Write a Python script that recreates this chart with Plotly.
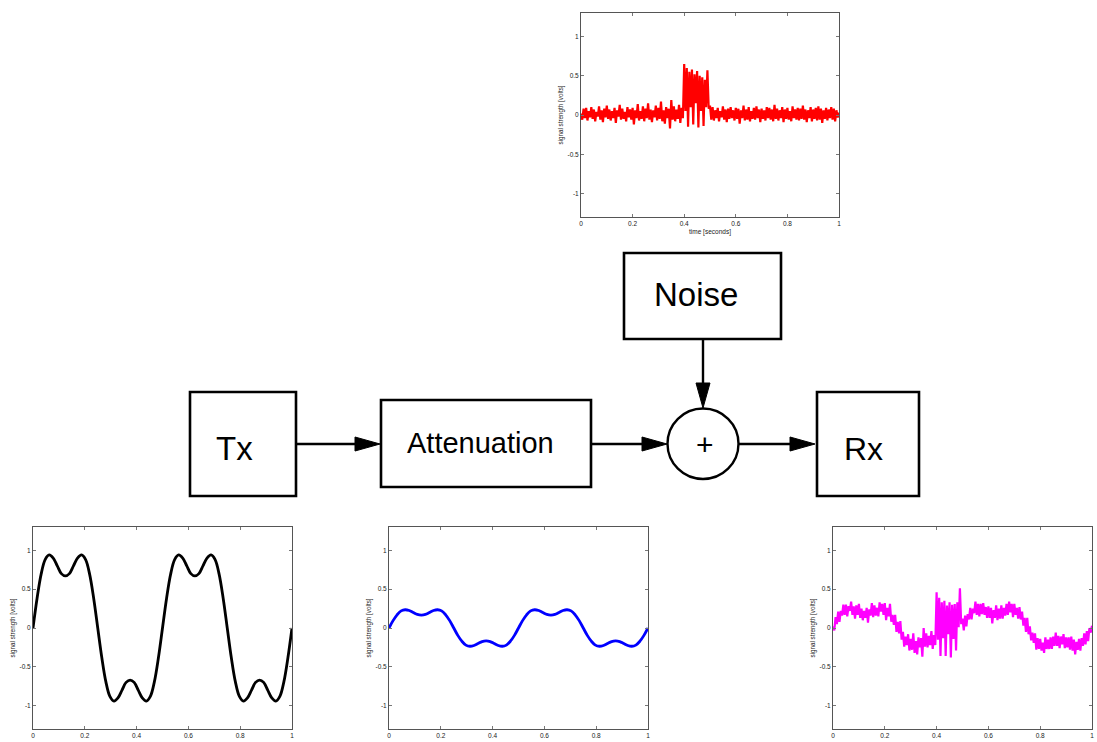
import plotly.graph_objects as go

W, H = 1097, 742

# ---------------- data ----------------
tx_dt = 1 / 64
tx_signal = [
    0, 0.38, 0.69, 0.88, 0.94, 0.90, 0.80, 0.70, 0.67, 0.70, 0.80, 0.90, 0.94, 0.88, 0.69, 0.38,
    0, -0.38, -0.69, -0.88, -0.94, -0.90, -0.80, -0.70, -0.67, -0.70, -0.80, -0.90, -0.94, -0.88, -0.69, -0.38,
    0, 0.38, 0.69, 0.88, 0.94, 0.90, 0.80, 0.70, 0.67, 0.70, 0.80, 0.90, 0.94, 0.88, 0.69, 0.38,
    0, -0.38, -0.69, -0.88, -0.94, -0.90, -0.80, -0.70, -0.67, -0.70, -0.80, -0.90, -0.94, -0.88, -0.69, -0.38,
    0,
]
att_signal = [
    0, 0.095, 0.17, 0.22, 0.235, 0.225, 0.20, 0.175, 0.167, 0.175, 0.20, 0.225, 0.235, 0.22, 0.17, 0.095,
    0, -0.095, -0.17, -0.22, -0.235, -0.225, -0.20, -0.175, -0.167, -0.175, -0.20, -0.225, -0.235, -0.22, -0.17, -0.095,
    0, 0.095, 0.17, 0.22, 0.235, 0.225, 0.20, 0.175, 0.167, 0.175, 0.20, 0.225, 0.235, 0.22, 0.17, 0.095,
    0, -0.095, -0.17, -0.22, -0.235, -0.225, -0.20, -0.175, -0.167, -0.175, -0.20, -0.225, -0.235, -0.22, -0.17, -0.095,
    0,
]

noise_dt = 0.005
noise_signal = [
    0.02, -0.06, 0.08, -0.04, 0.09, -0.07, 0.05, -0.03, 0.10, -0.05,
    0.07, -0.08, 0.04, -0.02, 0.11, -0.06, 0.06, -0.09, 0.08, -0.03,
    0.12, -0.05, 0.07, -0.07, 0.05, -0.04, 0.09, -0.10, 0.06, -0.02,
    0.13, -0.06, 0.08, -0.05, 0.04, -0.08, 0.10, -0.03, 0.07, -0.06,
    0.09, -0.12, 0.06, -0.04, 0.14, -0.07, 0.05, -0.05, 0.11, -0.08,
    0.08, -0.04, 0.15, -0.06, 0.07, -0.09, 0.06, -0.03, 0.12, -0.07,
    0.09, -0.05, 0.17, -0.08, 0.06, -0.11, 0.10, -0.04, 0.08, -0.17,
    0.19, -0.06, 0.11, -0.08, 0.07, -0.05, 0.13, -0.10, 0.09, -0.04,
    0.65, 0.05, 0.60, -0.15, 0.55, 0.10, 0.58, -0.12, 0.52, 0.15,
    0.56, -0.16, 0.50, 0.05, 0.48, -0.14, 0.45, 0.10, 0.57, 0.08,
    0.12, -0.06, 0.10, -0.07, 0.06, -0.04, 0.09, -0.08, 0.05, -0.03,
    0.11, -0.06, 0.07, -0.09, 0.08, -0.05, 0.10, -0.04, 0.06, -0.07,
    0.09, -0.05, 0.08, -0.11, 0.06, -0.04, 0.12, -0.07, 0.07, -0.06,
    0.10, -0.08, 0.05, -0.05, 0.09, -0.06, 0.11, -0.04, 0.07, -0.09,
    0.08, -0.05, 0.06, -0.07, 0.10, -0.04, 0.09, -0.06, 0.07, -0.08,
    0.13, -0.05, 0.08, -0.07, 0.06, -0.04, 0.10, -0.09, 0.07, -0.05,
    0.09, -0.06, 0.05, -0.08, 0.11, -0.04, 0.07, -0.06, 0.09, -0.07,
    0.08, -0.05, 0.12, -0.06, 0.07, -0.09, 0.06, -0.04, 0.10, -0.08,
    0.07, -0.05, 0.09, -0.07, 0.11, -0.06, 0.08, -0.10, 0.06, -0.05,
    0.09, -0.07, 0.07, -0.04, 0.10, -0.06, 0.08, -0.08, 0.06, -0.03,
    0.03,
]

rx_dt = 0.005
rx_signal = [
    0.02, -0.03, 0.14, 0.05, 0.21, 0.08, 0.22, 0.16, 0.30, 0.17,
    0.30, 0.15, 0.28, 0.22, 0.34, 0.17, 0.28, 0.12, 0.29, 0.17,
    0.31, 0.13, 0.25, 0.10, 0.22, 0.13, 0.26, 0.07, 0.24, 0.16,
    0.32, 0.14, 0.29, 0.16, 0.26, 0.15, 0.33, 0.21, 0.31, 0.17,
    0.32, 0.10, 0.26, 0.15, 0.31, 0.08, 0.17, 0.04, 0.17, -0.05,
    0.08, -0.07, 0.09, -0.15, -0.05, -0.24, -0.11, -0.22, -0.08, -0.29,
    -0.14, -0.28, -0.07, -0.32, -0.17, -0.34, -0.12, -0.25, -0.13, -0.37,
    0.00, -0.24, -0.07, -0.25, -0.10, -0.22, -0.04, -0.27, -0.09, -0.22,
    0.46, -0.15, 0.39, -0.36, 0.33, -0.13, 0.35, -0.36, 0.29, -0.08,
    0.33, -0.38, 0.30, -0.14, 0.31, -0.29, 0.33, 0.01, 0.51, 0.05,
    0.12, -0.03, 0.16, 0.02, 0.18, 0.11, 0.26, 0.11, 0.25, 0.19,
    0.34, 0.17, 0.31, 0.15, 0.31, 0.18, 0.32, 0.17, 0.27, 0.13,
    0.28, 0.13, 0.26, 0.06, 0.23, 0.13, 0.29, 0.10, 0.25, 0.12,
    0.29, 0.12, 0.26, 0.16, 0.31, 0.17, 0.34, 0.20, 0.31, 0.14,
    0.31, 0.17, 0.26, 0.12, 0.27, 0.11, 0.21, 0.03, 0.13, -0.05,
    0.13, -0.08, 0.02, -0.16, -0.06, -0.19, -0.07, -0.28, -0.13, -0.27,
    -0.14, -0.29, -0.19, -0.32, -0.12, -0.27, -0.15, -0.27, -0.12, -0.27,
    -0.11, -0.23, -0.06, -0.23, -0.10, -0.26, -0.11, -0.21, -0.08, -0.26,
    -0.12, -0.25, -0.12, -0.28, -0.11, -0.29, -0.15, -0.34, -0.18, -0.28,
    -0.14, -0.29, -0.13, -0.23, -0.07, -0.21, -0.04, -0.17, 0.00, -0.06,
    0.03,
]

x_tickvals = [0, 0.2, 0.4, 0.6, 0.8, 1]
x_ticktext = ["0", "0.2", "0.4", "0.6", "0.8", "1"]
y_tickvals = [-1, -0.5, 0, 0.5, 1]
y_ticktext = ["-1", "-0.5", "0", "0.5", "1"]
y_title = "signal strength [volts]"
x_title = "time [seconds]"

# ---------------- layout helpers (pixel boxes -> paper) ----------------
def px(x):
    return x / W


def py(y):
    return 1 - y / H


panels = [
    # name, (left, right, top, bottom) in px, series, dt, colour, width, x title
    ("noise", (581, 839, 13, 217), noise_signal, noise_dt, "#ff0000", 2.2, x_title),
    ("tx", (33, 292, 527, 729), tx_signal, tx_dt, "#000000", 2.8, None),
    ("att", (389, 648, 527, 729), att_signal, tx_dt, "#0000ff", 2.8, None),
    ("rx", (833, 1092, 527, 729), rx_signal, rx_dt, "#ff00ff", 2.2, None),
]

fig = go.Figure()
small_font = dict(family="Liberation Sans, Arial, sans-serif", size=6.5, color="#222222")
layout_axes = {}
for i, (name, (l, r, t, b), ys, dt, col, lw, xt) in enumerate(panels, start=1):
    xa = "x" if i == 1 else f"x{i}"
    ya = "y" if i == 1 else f"y{i}"
    smooth = name in ("tx", "att")
    fig.add_trace(go.Scatter(
        x0=0, dx=dt, y=ys, mode="lines", xaxis=xa, yaxis=ya,
        line=dict(color=col, width=lw, shape="spline" if smooth else "linear"),
        showlegend=False, hoverinfo="skip",
    ))
    common = dict(showline=True, linecolor="#555555", linewidth=1, mirror="allticks",
                  ticks="inside", ticklen=3, tickcolor="#777777", tickwidth=1,
                  showgrid=False, zeroline=False, tickfont=small_font, automargin=False)
    xkey = "xaxis" if i == 1 else f"xaxis{i}"
    ykey = "yaxis" if i == 1 else f"yaxis{i}"
    layout_axes[xkey] = dict(common, domain=[px(l), px(r)], anchor=ya, range=[0, 1],
                             tickvals=x_tickvals, ticktext=x_ticktext,
                             title=dict(text=xt, font=small_font, standoff=3) if xt else None)
    layout_axes[ykey] = dict(common, domain=[py(b), py(t)], anchor=xa, range=[-1.3, 1.3],
                             tickvals=y_tickvals, ticktext=y_ticktext,
                             title=dict(text=y_title, font=dict(small_font, size=6.3), standoff=3))

# ---------------- block diagram ----------------
line_col = "#000000"
lw_box = 2.6
boxes = [
    (190, 296, 392, 496),   # Tx
    (381, 591, 400, 487),   # Attenuation
    (624, 781, 253, 339),   # Noise
    (817, 919, 392, 496),   # Rx
]
shapes = []
for (x0, x1, y0, y1) in boxes:
    shapes.append(dict(type="rect", xref="paper", yref="paper",
                       x0=px(x0), x1=px(x1), y0=py(y1), y1=py(y0),
                       line=dict(color=line_col, width=lw_box), fillcolor="rgba(0,0,0,0)"))
# summing junction
shapes.append(dict(type="circle", xref="paper", yref="paper",
                   x0=px(667.5), x1=px(738.5), y0=py(479), y1=py(408.5),
                   line=dict(color=line_col, width=2.4), fillcolor="rgba(0,0,0,0)"))

# connectors: (x_start, y_start, x_tip, y_tip)
arrows = [
    (296, 444, 380, 444),
    (591, 444, 667, 444),
    (738.5, 444, 815, 444),
    (703, 339, 703, 408),
]
head_len, head_half = 25, 7
for (xs, ys_, xe, ye) in arrows:
    if ys_ == ye:
        xb = xe - head_len
        shapes.append(dict(type="line", xref="paper", yref="paper",
                           x0=px(xs), x1=px(xb + 2), y0=py(ys_), y1=py(ye),
                           line=dict(color=line_col, width=2.4)))
        path = (f"M {px(xe)} {py(ye)} L {px(xb)} {py(ye - head_half)} "
                f"L {px(xb)} {py(ye + head_half)} Z")
    else:
        yb = ye - head_len
        shapes.append(dict(type="line", xref="paper", yref="paper",
                           x0=px(xs), x1=px(xe), y0=py(ys_), y1=py(yb + 2),
                           line=dict(color=line_col, width=2.4)))
        path = (f"M {px(xe)} {py(ye)} L {px(xe - head_half)} {py(yb)} "
                f"L {px(xe + head_half)} {py(yb)} Z")
    shapes.append(dict(type="path", xref="paper", yref="paper", path=path,
                       line=dict(color=line_col, width=1), fillcolor=line_col))

label_font = "Liberation Sans, Arial, Helvetica, sans-serif"
labels = [
    ("Tx", 234.5, 449, 33),
    ("Attenuation", 480.5, 443, 29),
    ("Noise", 696, 294, 33),
    ("Rx", 863, 449, 32),
    ("+", 704.5, 444, 30),
]
annotations = []
for (txt, x, y, fs) in labels:
    annotations.append(dict(text=txt, x=px(x), y=py(y), xref="paper", yref="paper",
                            xanchor="center", yanchor="middle", showarrow=False,
                            font=dict(family=label_font, size=fs, color="#000000")))

fig.update_layout(
    width=W, height=H, margin=dict(l=0, r=0, t=0, b=0),
    paper_bgcolor="#ffffff", plot_bgcolor="rgba(0,0,0,0)",
    template="none", showlegend=False,
    shapes=shapes, annotations=annotations,
    **layout_axes,
)

fig.write_html("out.html", config={"displayModeBar": False},
               post_script="document.body.style.margin='0';")
